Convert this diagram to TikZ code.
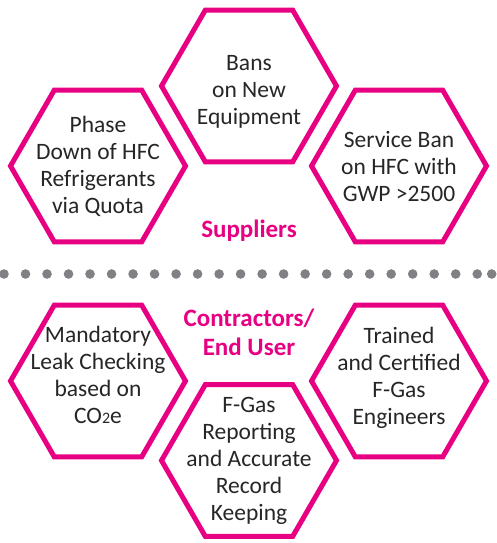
\documentclass[tikz,border=0pt]{standalone}
\usepackage{fontspec}
\setmainfont{Carlito}
\usetikzlibrary{shapes.geometric}
\definecolor{hexpink}{RGB}{232,0,130}
\definecolor{dotgray}{RGB}{128,128,133}
\definecolor{textgray}{RGB}{38,38,38}
\begin{document}
\begin{tikzpicture}[x=1pt,y=-1pt,
    hexa/.style={draw=hexpink,line width=5pt,regular polygon,regular polygon sides=6,minimum size=175pt,inner sep=0pt},
    hexatext/.style={align=center,text=textgray,font=\fontsize{23.5}{27}\selectfont},
    grouptext/.style={align=center,text=hexpink,font=\bfseries\fontsize{25}{29}\selectfont}]
    \useasboundingbox (0,0) rectangle (497,543);
    \node[hexa] (bans) at (249,86) {};
    \node[hexa] (phase) at (98,166) {};
    \node[hexa] (service) at (399,166) {};
    \node[hexa] (leak) at (98,381) {};
    \node[hexa] (trained) at (399,381) {};
    \node[hexa] (report) at (249,460.5) {};
    \node[hexatext] (bans text) at ([yshift=-6pt]bans.center) {Bans\\on New\\Equipment};
    \node[hexatext] (phase text) at (phase.center) {Phase\\Down of HFC\\Refrigerants\\via Quota};
    \node[hexatext] (service text) at (service.center) {Service Ban\\on HFC with\\GWP >2500};
    \node[hexatext] (leak text) at ([yshift=6pt]leak.center) {Mandatory\\Leak Checking\\based on\\CO{\fontsize{16}{16}\selectfont 2}e};
    \node[hexatext] (trained text) at ([yshift=3pt]trained.center) {Trained\\and Certified\\F-Gas\\Engineers};
    \node[hexatext] (report text) at (report.center) {F-Gas\\Reporting\\and Accurate\\Record\\Keeping};
    \node[grouptext] (suppliers) at (249,231) {Suppliers};
    \node[grouptext] (contractors) at (249,332) {Contractors/\\End User};
    \foreach \k in {0,...,22}
        \fill[dotgray] (4+21.51*\k,274) circle (4.8);
    \fill[dotgray] (491.7,274) circle (4.8);
\end{tikzpicture}
\end{document}
